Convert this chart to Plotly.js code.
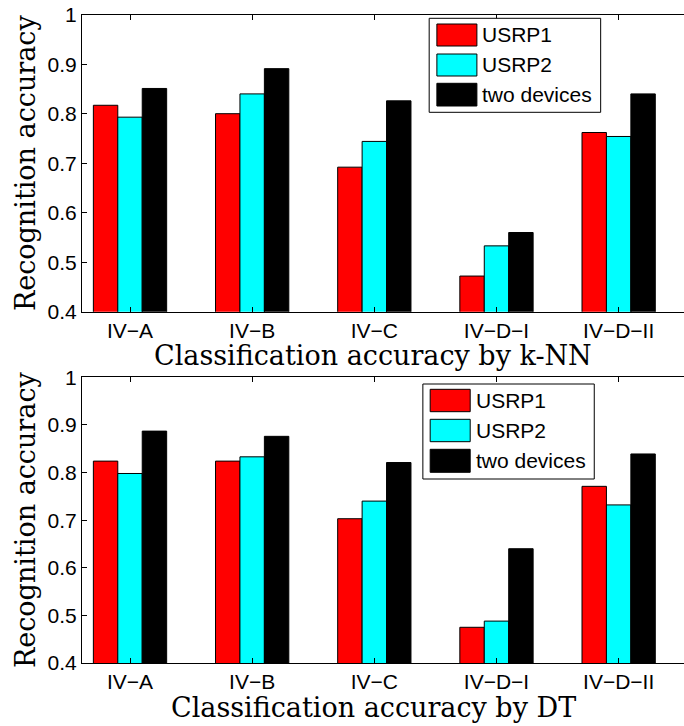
<!DOCTYPE html>
<html><head><meta charset="utf-8">
<script src="https://cdn.plot.ly/plotly-3.0.1.min.js"></script>
<style>html,body{margin:0;padding:0;background:#fff;overflow:hidden}</style>
</head><body><div id="chart" style="width:684px;height:726px"></div>
<script>
// ---- data ----
const categories = ['IV\u2212A','IV\u2212B','IV\u2212C','IV\u2212D\u2212I','IV\u2212D\u2212II'];
const seriesNames = ['USRP1','USRP2','two devices'];
const seriesColors = ['#ff0000','#00ffff','#000000'];
const knnUSRP1 = [0.817,0.800,0.692,0.472,0.762];
const knnUSRP2 = [0.793,0.840,0.744,0.533,0.754];
const knnTwo   = [0.851,0.891,0.826,0.560,0.840];
const dtUSRP1  = [0.824,0.824,0.703,0.475,0.771];
const dtUSRP2  = [0.798,0.833,0.740,0.488,0.732];
const dtTwo    = [0.887,0.876,0.821,0.640,0.839];
const yTicks = [0.4,0.5,0.6,0.7,0.8,0.9,1];
const yTickText = ['0.4','0.5','0.6','0.7','0.8','0.9','1'];
const titleTop = 'Classification accuracy by k-NN';
const titleBottom = 'Classification accuracy by DT';
const yTitle = 'Recognition accuracy';

// ---- geometry helpers ----
const W = 684, H = 726, ML = 82.3, PW = W - ML;
const px = x => (x - ML) / PW;
const py = y => 1 - y / H;

const sans = 'Liberation Sans, Arial, sans-serif';
const serif = 'DejaVu Serif, serif';

function bars(vals, i, xa, ya) {
  return {type:'bar', x:categories, y:vals, name:seriesNames[i], xaxis:xa, yaxis:ya,
    marker:{color:seriesColors[i], line:{color:'#000', width:1}}, showlegend:false};
}
const data = [
  bars(knnUSRP1,0,'x','y'), bars(knnUSRP2,1,'x','y'), bars(knnTwo,2,'x','y'),
  bars(dtUSRP1,0,'x2','y2'), bars(dtUSRP2,1,'x2','y2'), bars(dtTwo,2,'x2','y2')
];

function xax(anchor) {
  return {type:'category', range:[-0.393, 4.535], anchor:anchor, domain:[0,1],
    showline:true, linecolor:'#000', linewidth:1, mirror:'ticks',
    ticks:'inside', ticklen:5, tickcolor:'#000', showgrid:false, zeroline:false,
    tickfont:{family:sans, size:21, color:'#000'},
    automargin:false, fixedrange:true};
}
function yax(dom, anchor) {
  return {range:[0.4,1], domain:dom, anchor:anchor,
    tickvals:yTicks, ticktext:yTickText,
    showline:true, linecolor:'#000', linewidth:1, mirror:false,
    ticks:'inside', ticklen:5, tickcolor:'#000', showgrid:false, zeroline:false,
    tickfont:{family:sans, size:21, color:'#000'},
    title:{text:yTitle, font:{family:serif, size:27, color:'#000'}, standoff:4},
    automargin:false, fixedrange:true};
}

const shapes = [], annotations = [];
// x-axis titles (centered as in the original figure)
annotations.push({xref:'paper', yref:'paper', x:px(373.5), y:py(355), xanchor:'center', yanchor:'middle',
  text:titleTop, showarrow:false, font:{family:serif, size:27, color:'#000'}});
annotations.push({xref:'paper', yref:'paper', x:px(373.5), y:py(707.5), xanchor:'center', yanchor:'middle',
  text:titleBottom, showarrow:false, font:{family:serif, size:27, color:'#000'}});

// legend built as shapes + annotations
function legend(bx0, by0, bx1, by1, patchX0, patchX1, rows, textX) {
  shapes.push({type:'rect', xref:'paper', yref:'paper', x0:px(bx0), x1:px(bx1), y0:py(by1), y1:py(by0),
    line:{color:'#000', width:1}, fillcolor:'#fff', layer:'above'});
  seriesNames.forEach((n, i) => {
    const r = rows[i];
    shapes.push({type:'rect', xref:'paper', yref:'paper', x0:px(patchX0), x1:px(patchX1), y0:py(r[1]), y1:py(r[0]),
      line:{color:'#000', width:1}, fillcolor:seriesColors[i], layer:'above'});
    annotations.push({xref:'paper', yref:'paper', x:px(textX), y:py((r[0]+r[1])/2), xanchor:'left', yanchor:'middle',
      text:n, showarrow:false, font:{family:sans, size:21, color:'#000'}});
  });
}
legend(429.3, 18.3, 600.7, 112.3, 437, 477, [[24,46],[54,76],[83.3,106]], 480);
legend(423, 384, 594.3, 479, 430.3, 470.3, [[389.3,411.7],[419.3,441.7],[449.3,472.3]], 474.3);

const layout = {
  width:W, height:H, margin:{l:ML, r:0, t:0, b:0},
  paper_bgcolor:'#fff', plot_bgcolor:'#fff',
  barmode:'group', bargap:0.4, bargroupgap:0,
  showlegend:false,
  xaxis: xax('y'),
  yaxis: yax([py(311.7), py(14.7)], 'x'),
  xaxis2: xax('y2'),
  yaxis2: yax([py(663), py(377.3)], 'x2'),
  shapes: shapes, annotations: annotations
};
Plotly.newPlot('chart', data, layout, {displayModeBar:false, staticPlot:true});
</script></body></html>
